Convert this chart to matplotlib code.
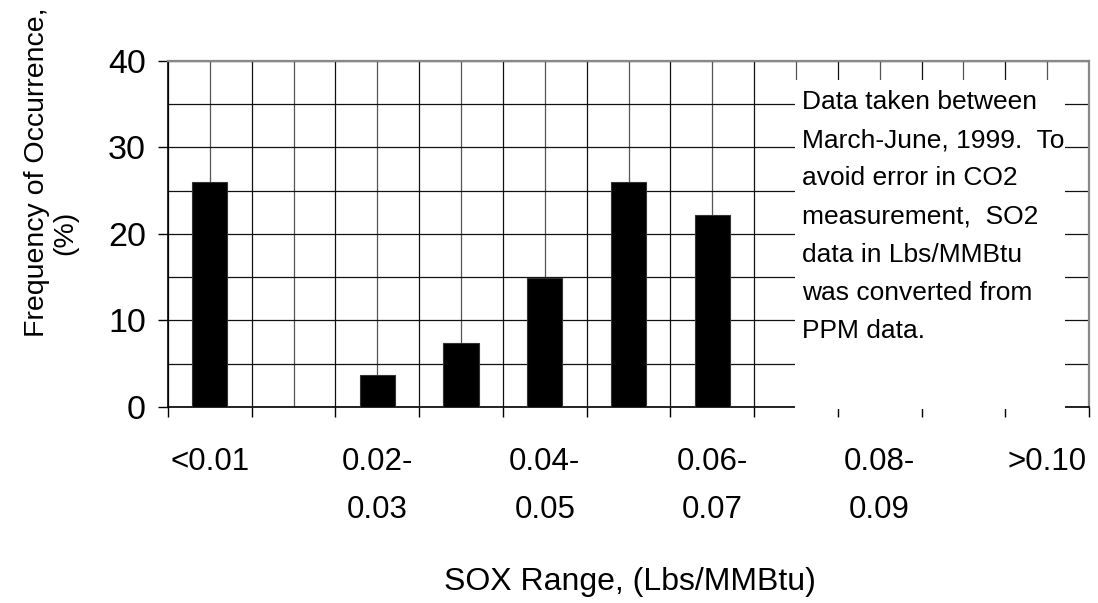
import matplotlib.pyplot as plt
import numpy as np
from matplotlib.patches import Rectangle

categories = ['<0.01', '0.01-0.02', '0.02-0.03', '0.03-0.04', '0.04-0.05', '0.05-0.06',
              '0.06-0.07', '0.07-0.08', '0.08-0.09', '0.09-0.10', '>0.10']
frequency = [26.0, 0.0, 3.7, 7.4, 14.9, 26.0, 22.2, 0.0, 0.0, 0.0, 0.0]
tick_labels = ['<0.01', '0.02-\n0.03', '0.04-\n0.05', '0.06-\n0.07', '0.08-\n0.09', '>0.10']
note = ("Data taken between\nMarch-June, 1999.  To\navoid error in CO2\n"
        "measurement,  SO2\ndata in Lbs/MMBtu\nwas converted from\nPPM data.")

plt.rcParams['font.family'] = ['Liberation Sans', 'DejaVu Sans']

W, H = 1098, 603
fig = plt.figure(figsize=(W / 100, H / 100), dpi=100)
ax = fig.add_axes([168 / W, 1 - 407 / H, (1089 - 168) / W, (407 - 60.7) / H])

x = np.arange(len(categories))
ax.bar(x, frequency, width=0.42, color='black', edgecolor='#333333', linewidth=0.8, zorder=3)

ax.set_xlim(-0.5, len(categories) - 0.5)
ax.set_ylim(0, 40)

# y axis
ax.set_yticks([0, 10, 20, 30, 40])
ax.set_yticks([5, 15, 25, 35], minor=True)
ax.tick_params(axis='y', which='major', direction='out', length=7, width=1, pad=9,
               labelsize=24.5)
ax.tick_params(axis='y', which='minor', length=0)
ax.grid(axis='y', which='both', color='#111111', linewidth=0.9, zorder=0)

# x axis: tick marks on category borders, labels on every other category
ax.set_xticks(np.arange(-0.5, len(categories), 1.0))
ax.set_xticklabels([])
ax.tick_params(axis='x', which='major', direction='out', length=7, width=1)
ax.set_xticks(x[::2], tick_labels, minor=True)
ax.tick_params(axis='x', which='minor', length=0, pad=29, labelsize=22.5)
for t in ax.get_xticklabels(minor=True):
    t.set_linespacing(1.78)

for pos in np.arange(-0.5, len(categories), 0.5):
    ax.axvline(pos, color='#111111' if pos % 1 else '#555555', linewidth=0.9, zorder=0)

for side in ['left', 'bottom']:
    ax.spines[side].set_color('black')
    ax.spines[side].set_linewidth(1.2)
for side in ['top', 'right']:
    ax.spines[side].set_color('#888888')
    ax.spines[side].set_linewidth(1.6)

# note box
ax.add_patch(Rectangle((0.681, -0.006), 0.293, 0.95, transform=ax.transAxes,
                       facecolor='white', edgecolor='none', zorder=4, clip_on=False))
ax.text(0.688, 0.55, note, transform=ax.transAxes, ha='left', va='center',
        fontsize=19, linespacing=1.75, zorder=5)

fig.text(630 / W, 1 - 590 / H, 'SOX Range, (Lbs/MMBtu)', ha='center', va='baseline',
         fontsize=23)
fig.text(44 / W, 1 - 172 / H, 'Frequency of Occurrence,', rotation=90,
         rotation_mode='anchor', ha='center', va='baseline', fontsize=20.5)
fig.text(72 / W, 1 - 233 / H, '(%)', rotation=90,
         rotation_mode='anchor', ha='center', va='baseline', fontsize=20.5)

fig.savefig('out.png', dpi=100)
